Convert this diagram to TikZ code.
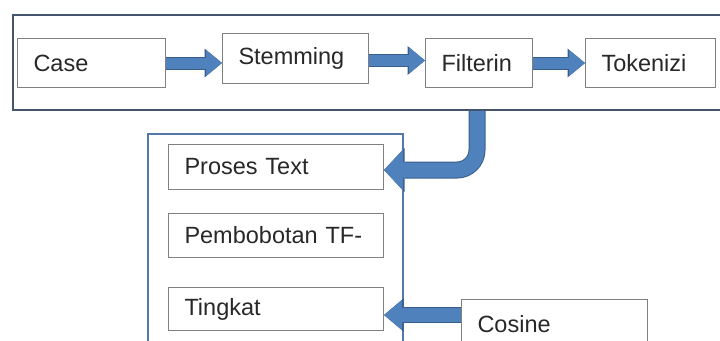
\documentclass[tikz,border=0pt]{standalone}
\usepackage{fontspec}
\setmainfont{Liberation Sans}
\usetikzlibrary{arrows.meta}
\definecolor{biru}{RGB}{79,129,189}
\definecolor{birutua}{RGB}{56,93,138}
\definecolor{bingkai}{RGB}{68,84,106}
\definecolor{bingkaibiru}{RGB}{84,120,170}
\definecolor{garis}{RGB}{128,128,128}
\definecolor{tulisan}{RGB}{40,40,40}
\tikzset{
	kotak/.style={draw=garis, fill=white, line width=1pt, anchor=north west, inner xsep=16pt, inner ysep=0pt, align=left, text=tulisan, font=\fontsize{23.5}{28}\selectfont},
	panah/.style n args={3}{line width=#1, draw=biru, -{Triangle[length=#2,width=#3,line width=0pt]}},
	tepi/.style n args={3}{draw=birutua, line width=#1, -{Triangle[length=#2,width=#3,line width=0pt]}}
}
\begin{document}
\begin{tikzpicture}[x=1pt,y=-1pt]
		\useasboundingbox(0,0)rectangle(720,340);
		\clip(0,0)rectangle(720,340);
		% bingkai luar
		\node[draw=bingkai,line width=2pt,anchor=north west,minimum width=740pt,minimum height=95pt,inner sep=0pt](praproses)at(12,14){};
		\node[draw=bingkaibiru,line width=1.5pt,anchor=north west,minimum width=255pt,minimum height=240pt,inner sep=0pt](hasil)at(147,133){};
		% tahap praproses
		\node[kotak,text width=116pt,minimum height=49pt](case)at(17,38){Case};
		\node[kotak,text width=114pt,minimum height=50pt](stem)at(222,33){Stemming};
		\node[kotak,text width=75pt,minimum height=49pt](filter)at(425,38){Filterin};
		\node[kotak,text width=98pt,minimum height=49pt](token)at(585,38){Tokenizi};
		% tahap hasil
		\node[kotak,text width=183pt,minimum height=45pt](proses)at(168,144){Proses Text};
		\node[kotak,text width=183pt,minimum height=44pt](bobot)at(168,213){Pembobotan~TF-};
		\node[kotak,text width=183pt,minimum height=43pt](tingkat)at(168,287){Tingkat};
		\node[kotak,text width=154pt,minimum height=49pt](cosine)at(461,299){Cosine};
		\coordinate(x)at(477,0);
		% panah
		\draw[panah={11pt}{16pt}{26pt},preaction={tepi={13pt}{17.5pt}{29pt}}](case.east)--(case.east-|stem.west);
		\draw[panah={11pt}{16pt}{26pt},preaction={tepi={13pt}{17.5pt}{29pt}}]([yshift=-2pt]stem.east)--([yshift=-2pt]stem.east-|filter.west);
		\draw[panah={11pt}{16pt}{26pt},preaction={tepi={13pt}{17.5pt}{29pt}}](filter.east)--(token.west);
		\draw[panah={15pt}{19pt}{41pt},preaction={tepi={17pt}{20.5pt}{44pt}},rounded corners=20pt](praproses.south-|x)|-([yshift=-3pt]proses.east);
		\draw[panah={14pt}{18pt}{30pt},preaction={tepi={16pt}{19.5pt}{33pt}}]([yshift=-6pt]tingkat.east-|cosine.west)--([yshift=-6pt]tingkat.east);
	    \end{tikzpicture}
\end{document}
